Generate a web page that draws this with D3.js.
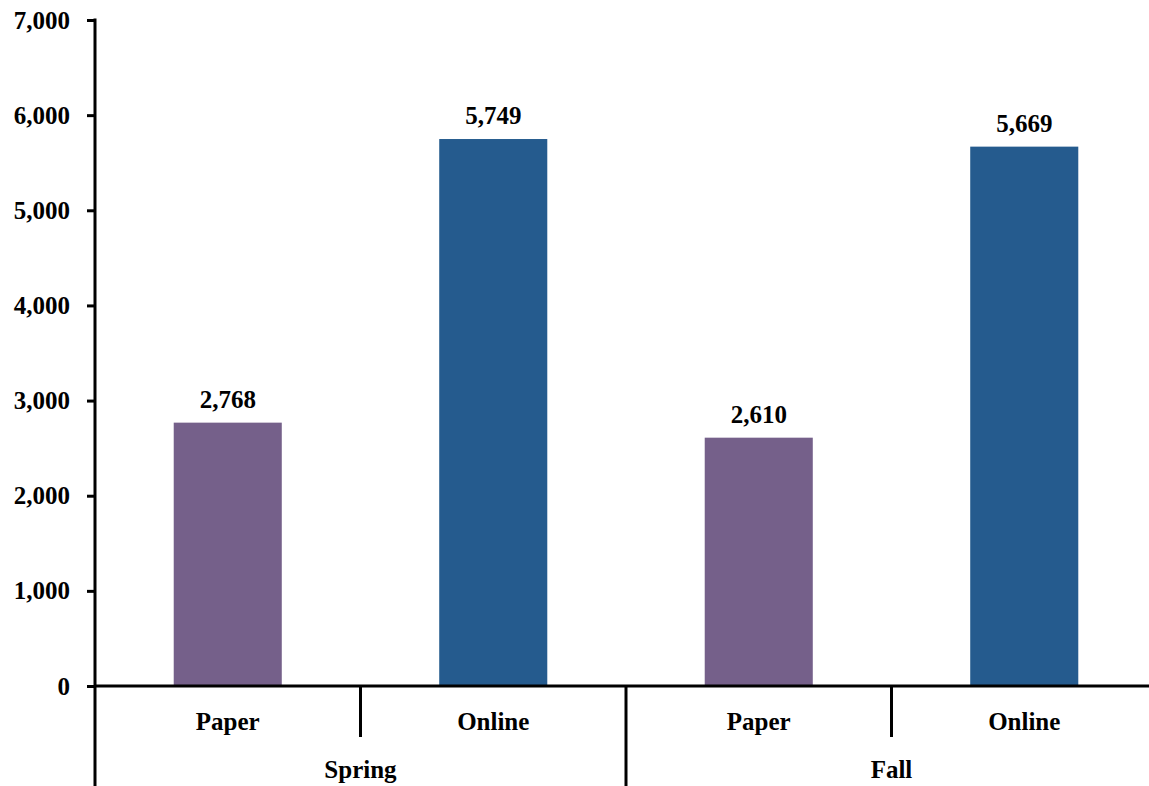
<!DOCTYPE html>
<html><head><meta charset="utf-8">
<script src="https://cdn.jsdelivr.net/npm/d3@7"></script>
<style>body{margin:0;background:#fff;}svg{display:block;}text{font-family:"Liberation Serif","DejaVu Serif",serif;font-weight:bold;fill:#000;}</style>
</head><body>
<script>
const seasons = ["Spring", "Fall"];
const modes = ["Paper", "Online"];
const values = [2768, 5749, 2610, 5669];
const yTicks = [0, 1000, 2000, 3000, 4000, 5000, 6000, 7000];
const colors = {Paper: "#75608A", Online: "#255B8E"};

const W = 1149, H = 786;
const svg = d3.select("body").append("svg").attr("width", W).attr("height", H);

const cats = [];
seasons.forEach(s => modes.forEach(md => cats.push({season: s, mode: md, key: s + "-" + md})));
cats.forEach((c, i) => c.value = values[i]);

const x = d3.scaleBand().domain(cats.map(c => c.key)).range([95, 1157]).paddingInner(0).paddingOuter(0);
const y = d3.scaleLinear().domain([0, 7000]).range([686, 20]);
const fmt = d3.format(",");
const FS = "25px";

// bars
const bw = x.bandwidth() * 0.407;
svg.selectAll("rect.bar").data(cats).enter().append("rect")
  .attr("x", d => x(d.key) + (x.bandwidth() - bw) / 2)
  .attr("y", d => y(d.value))
  .attr("width", bw)
  .attr("height", d => y(0) - y(d.value))
  .attr("fill", d => colors[d.mode]);

// value labels
svg.selectAll("text.val").data(cats).enter().append("text")
  .attr("x", d => x(d.key) + x.bandwidth() / 2)
  .attr("y", d => y(d.value) - 15)
  .attr("text-anchor", "middle")
  .style("font-size", FS)
  .text(d => fmt(d.value));

// y axis
const yAxis = d3.axisLeft(y).tickValues(yTicks).tickFormat(d => d === 0 ? "0" : fmt(d)).tickSize(8).tickPadding(17);
const gy = svg.append("g").attr("transform", "translate(95,0)").call(yAxis);
gy.select(".domain").attr("stroke", "#000").attr("stroke-width", 3).attr("d", "M0,18.5V786");
gy.selectAll(".tick line").attr("stroke", "#000").attr("stroke-width", 3);
gy.selectAll(".tick text").style("font-size", FS).attr("font-family", null).attr("dy", "0.32em");

// x axis line
svg.append("line").attr("x1", 95).attr("x2", W).attr("y1", y(0)).attr("y2", y(0))
  .attr("stroke", "#000").attr("stroke-width", 3);

// mode labels
svg.selectAll("text.mode").data(cats).enter().append("text")
  .attr("x", d => x(d.key) + x.bandwidth() / 2)
  .attr("y", 730)
  .attr("text-anchor", "middle")
  .style("font-size", FS)
  .text(d => d.mode);

// separators within seasons (short) and between seasons (long)
const bounds = cats.slice(1).map(c => ({x: x(c.key), long: c.mode === "Paper"}));
svg.selectAll("line.sep").data(bounds).enter().append("line")
  .attr("x1", d => d.x).attr("x2", d => d.x)
  .attr("y1", y(0)).attr("y2", d => d.long ? H : 737)
  .attr("stroke", "#000").attr("stroke-width", 3);

// season labels
svg.selectAll("text.season").data(seasons).enter().append("text")
  .attr("x", s => {
    const ks = cats.filter(c => c.season === s).map(c => x(c.key));
    return (d3.min(ks) + d3.max(ks) + x.bandwidth()) / 2;
  })
  .attr("y", 778)
  .attr("text-anchor", "middle")
  .style("font-size", FS)
  .text(s => s);
</script>
</body></html>
